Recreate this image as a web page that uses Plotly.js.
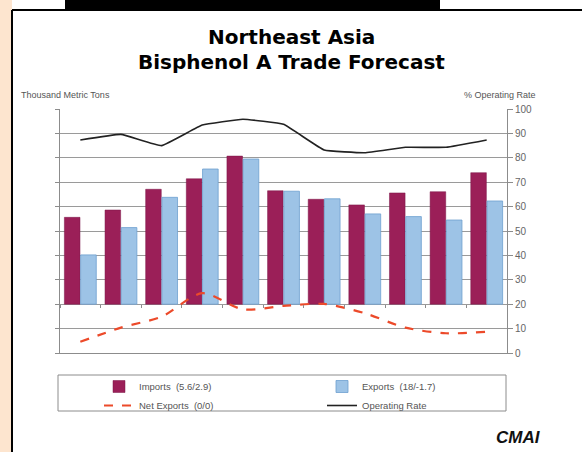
<!DOCTYPE html>
<html><head><meta charset="utf-8">
<script src="https://cdn.plot.ly/plotly-3.0.1.min.js"></script>
<style>html,body{margin:0;padding:0;background:#fff;}#chart{width:582px;height:452px;}</style>
</head><body><div id="chart"></div>
<script>
// Data (left axis: thousand metric tons, relative; right axis: % operating rate)
var periods = ['P1','P2','P3','P4','P5','P6','P7','P8','P9','P10','P11'];
var imports = [35.6, 38.6, 47.1, 51.4, 60.7, 46.5, 43.0, 40.7, 45.6, 46.1, 53.9];
var exportsV = [20.2, 31.4, 43.8, 55.4, 59.5, 46.3, 43.2, 37.0, 35.9, 34.5, 42.3];
var netExports = [-15.4, -9.6, -5.1, 4.5, -2.1, -0.7, 0.1, -3.7, -9.6, -11.9, -11.3];
var operatingRate = [87.3, 89.6, 85.0, 93.4, 95.8, 93.7, 83.2, 82.1, 84.3, 84.3, 87.3];
var rightTicks = [0,10,20,30,40,50,60,70,80,90,100];

// plot area in pixels: x 60-507, y 109-353
var L=60, R=507, T=109, B=353;
function px(x){return (x-L)/(R-L);}
function py(y){return (B-y)/(B-T);}

var traces = [
  {type:'bar', name:'Imports  (5.6/2.9)', x:periods, y:imports, xaxis:'x', yaxis:'y',
   marker:{color:'#9b1f58', line:{color:'#7a1546', width:0.5}}, legend:'legend'},
  {type:'bar', name:'Exports  (18/-1.7)', x:periods, y:exportsV, xaxis:'x', yaxis:'y',
   marker:{color:'#9dc3e6', line:{color:'#6d9fcf', width:0.8}}, legend:'legend2'},
  {type:'scatter', mode:'lines', name:'Net Exports  (0/0)', x:periods, y:netExports, xaxis:'x2', yaxis:'y',
   line:{color:'#ec4a2a', width:2.2, dash:'dash', shape:'spline', smoothing:0.8}, legend:'legend'},
  {type:'scatter', mode:'lines', name:'Operating Rate', x:periods, y:operatingRate, xaxis:'x', yaxis:'y2',
   line:{color:'#222222', width:1.6, shape:'spline', smoothing:0.3}, legend:'legend2'}
];

var layout = {
  width:582, height:452,
  margin:{l:L, r:582-R, t:T, b:452-B, pad:0},
  paper_bgcolor:'#ffffff', plot_bgcolor:'#ffffff',
  font:{family:'Liberation Sans, Arial, sans-serif', size:9, color:'#555'},
  barmode:'group', bargap:0.2, bargroupgap:0.04,
  showlegend:true,
  xaxis:{type:'category', range:[-0.5,10.5], showticklabels:false, ticks:'', showgrid:false, showline:true, linecolor:'#8c8c8c', linewidth:1, zeroline:false},
  xaxis2:{type:'category', overlaying:'x', anchor:'free', position:0.2, side:'bottom', categoryarray:periods, categoryorder:'array', range:[-0.5,10.5],
          showticklabels:false, ticks:'outside', ticklen:3, tickcolor:'#8c8c8c', tickson:'boundaries', showgrid:false, showline:false, zeroline:false},
  yaxis:{range:[-20,80], dtick:10, showticklabels:false, ticks:'outside', ticklen:4, tickcolor:'#8c8c8c',
         showgrid:true, gridcolor:'#9a9a9a', gridwidth:1, showline:true, linecolor:'#8c8c8c', zeroline:false},
  yaxis2:{range:[0,100], tickvals:rightTicks, ticktext:rightTicks.map(String), overlaying:'y', side:'right', ticks:'outside', ticklen:5, tickcolor:'#8c8c8c',
          showgrid:false, showline:true, linecolor:'#8c8c8c', zeroline:false, tickfont:{size:10, color:'#666'}},
  legend:{x:px(99), y:py(372), xanchor:'left', yanchor:'top', orientation:'v', bgcolor:'rgba(0,0,0,0)',
          font:{size:9.5, color:'#555'}, tracegroupgap:0, itemwidth:30},
  legend2:{x:px(322), y:py(372), xanchor:'left', yanchor:'top', orientation:'v', bgcolor:'rgba(0,0,0,0)',
          font:{size:9.5, color:'#555'}, tracegroupgap:0, itemwidth:30},
  shapes:[
    {type:'rect', xref:'paper', yref:'paper', x0:px(0), x1:px(12), y0:py(0), y1:py(452), fillcolor:'#fde5cf', line:{width:0}, layer:'below'},
    {type:'rect', xref:'paper', yref:'paper', x0:px(65), x1:px(440), y0:py(0), y1:py(10), fillcolor:'#000', line:{width:0}},
    {type:'line', xref:'paper', yref:'paper', x0:px(12), x1:px(12), y0:py(10), y1:py(452), line:{color:'#000', width:2}},
    {type:'line', xref:'paper', yref:'paper', x0:px(12), x1:px(582), y0:py(10), y1:py(10), line:{color:'#000', width:2}},
    {type:'rect', xref:'paper', yref:'paper', x0:px(58), x1:px(506), y0:py(375), y1:py(411), fillcolor:'rgba(0,0,0,0)', line:{color:'#8c8c8c', width:1}}
  ],
  annotations:[
    {text:'<b>Northeast Asia</b>', xref:'paper', yref:'paper', x:px(291), y:py(37), showarrow:false, xanchor:'center', yanchor:'middle',
     font:{family:'DejaVu Sans, sans-serif', size:20, color:'#000'}},
    {text:'<b>Bisphenol A Trade Forecast</b>', xref:'paper', yref:'paper', x:px(291), y:py(62), showarrow:false, xanchor:'center', yanchor:'middle',
     font:{family:'DejaVu Sans, sans-serif', size:20, color:'#000'}},
    {text:'Thousand Metric Tons', xref:'paper', yref:'paper', x:px(19), y:py(95), showarrow:false, xanchor:'left', yanchor:'middle',
     font:{size:9, color:'#555'}},
    {text:'% Operating Rate', xref:'paper', yref:'paper', x:px(538), y:py(95), showarrow:false, xanchor:'right', yanchor:'middle',
     font:{size:9, color:'#555'}},
    {text:'<b><i>CMAI</i></b>', xref:'paper', yref:'paper', x:px(518), y:py(437), showarrow:false, xanchor:'center', yanchor:'middle',
     font:{family:'Liberation Sans, Arial, sans-serif', size:17, color:'#111'}}
  ]
};
Plotly.newPlot('chart', traces, layout, {staticPlot:true, displayModeBar:false});
</script></body></html>
